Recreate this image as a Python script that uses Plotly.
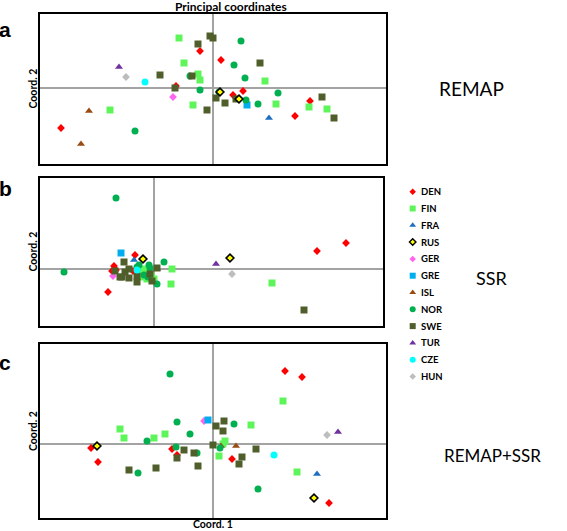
import plotly.graph_objects as go

W, H = 567, 531

COUNTRIES = ["DEN", "FIN", "FRA", "RUS", "GER", "GRE", "ISL", "NOR", "SWE", "TUR", "CZE", "HUN"]
DRAW_ORDER = ["DEN", "FIN", "FRA", "GER", "GRE", "ISL", "NOR", "SWE", "TUR", "CZE", "HUN", "RUS"]
PANEL_NAMES = ["REMAP", "SSR", "REMAP+SSR"]
PANEL_LETTERS = ["a", "b", "c"]

# ---- Panel a : REMAP (Coord. 1, Coord. 2) ----
REMAP_X = {
    "DEN": [-0.13, -0.37, -1.52, 0.08, 0.20, 0.30, 0.82, 0.97],
    "FIN": [-0.34, -0.29, -0.15, -0.13, -0.20, -1.03, 0.52, 0.63, 0.96, 1.14],
    "FRA": [0.56],
    "RUS": [0.07, 0.26],
    "GER": [-0.40],
    "GRE": [0.34],
    "ISL": [-1.24, -1.32],
    "NOR": [-0.23, -0.13, -0.78, 0.28, 0.21, 0.32, 0.06, 0.33, 0.45, 0.65],
    "SWE": [-0.53, -0.15, -0.21, -0.38, -0.06, -0.03, 0.00, 0.03, 0.12, 0.23, 0.47, 1.09, 1.21],
    "TUR": [-0.94],
    "CZE": [-0.68],
    "HUN": [-0.87],
}
REMAP_Y = {
    "DEN": [0.37, 0.02, -0.40, 0.28, -0.07, -0.03, -0.28, -0.13],
    "FIN": [0.50, 0.25, 0.14, 0.08, -0.17, -0.22, 0.07, -0.16, -0.19, -0.21],
    "FRA": [-0.30],
    "RUS": [-0.04, -0.11],
    "GER": [-0.09],
    "GRE": [-0.17],
    "ISL": [-0.23, -0.56],
    "NOR": [0.12, -0.02, -0.43, 0.47, 0.23, 0.10, -0.04, -0.12, -0.16, -0.05],
    "SWE": [0.13, 0.44, 0.12, 0.00, -0.22, 0.52, 0.50, -0.10, -0.15, -0.11, 0.25, -0.09, -0.30],
    "TUR": [0.21],
    "CZE": [0.06],
    "HUN": [0.11],
}

# ---- Panel b : SSR ----
SSR_X = {
    "DEN": [-0.19, -0.40, -0.42, -0.46, -0.21, 1.63, 1.92, -0.38],
    "FIN": [-0.09, -0.11, 0.00, 0.18, 0.17, 1.18, -0.07, -0.14, -0.06, -0.03],
    "FRA": [-0.20],
    "RUS": [-0.11, 0.76],
    "GER": [-0.41],
    "GRE": [-0.33],
    "ISL": [-0.01, 0.03],
    "NOR": [-0.38, -0.90, -0.17, -0.15, -0.05, -0.04, 0.10, -0.06, 0.03, -0.10],
    "SWE": [-0.30, -0.39, -0.32, -0.29, -0.34, -0.25, -0.25, -0.17, -0.17, -0.04, -0.02, 0.03, 1.50],
    "TUR": [0.62],
    "CZE": [-0.17],
    "HUN": [0.78],
}
SSR_Y = {
    "DEN": [0.14, 0.03, -0.02, -0.23, -0.02, 0.18, 0.26, -0.01],
    "FIN": [0.00, -0.08, -0.10, 0.00, -0.15, -0.14, -0.10, -0.02, -0.03, -0.07],
    "FRA": [0.09],
    "RUS": [0.10, 0.11],
    "GER": [-0.07],
    "GRE": [0.16],
    "ISL": [-0.12, 0.00],
    "NOR": [0.71, -0.03, 0.02, 0.04, 0.04, 0.01, 0.07, -0.08, -0.15, -0.06],
    "SWE": [0.07, -0.02, -0.08, -0.03, -0.08, -0.09, 0.00, -0.07, -0.13, -0.05, -0.12, 0.01, -0.41],
    "TUR": [0.05],
    "CZE": [-0.01],
    "HUN": [-0.05],
}

# ---- Panel c : REMAP+SSR ----
BOTH_X = {
    "DEN": [-1.22, -1.15, -0.41, -0.36, 0.72, 0.89, 0.19, 1.16],
    "FIN": [-0.93, -0.89, -0.59, -0.48, 0.70, 0.38, 0.12, 0.10, 0.06, 0.84],
    "FRA": [1.04],
    "RUS": [-1.16, 1.01],
    "GER": [-0.09],
    "GRE": [-0.05],
    "ISL": [0.08, 0.23],
    "NOR": [-0.43, -0.36, -0.23, -0.66, -0.37, -0.16, -0.75, 0.21, 0.07, 0.45],
    "SWE": [-0.29, -0.36, -0.19, -0.15, -0.84, -0.57, 0.00, 0.03, 0.11, 0.10, 0.43, 0.29, 0.26],
    "TUR": [1.25],
    "CZE": [0.61],
    "HUN": [1.14],
}
BOTH_Y = {
    "DEN": [-0.04, -0.18, -0.05, -0.11, 0.73, 0.67, -0.15, -0.59],
    "FIN": [0.15, 0.06, 0.06, 0.10, 0.43, 0.19, 0.03, 0.00, -0.12, -0.28],
    "FRA": [-0.30],
    "RUS": [-0.02, -0.54],
    "GER": [0.23],
    "GRE": [0.24],
    "ISL": [-0.02, -0.02],
    "NOR": [0.70, 0.22, 0.10, 0.03, -0.03, -0.09, -0.29, 0.20, -0.04, -0.45],
    "SWE": [-0.06, -0.14, -0.09, -0.22, -0.26, -0.24, -0.01, 0.18, 0.23, 0.13, -0.05, -0.13, -0.20],
    "TUR": [0.12],
    "CZE": [-0.11],
    "HUN": [0.09],
}

PANEL_DATA = [(REMAP_X, REMAP_Y), (SSR_X, SSR_Y), (BOTH_X, BOTH_Y)]

# ---- styles (symbol, fill, size, outline colour, outline width) ----
STYLE = {
    "DEN": ("diamond", "#ff0000", 6, "#ff0000", 0),
    "FIN": ("square", "#5ef55a", 7, "#5ef55a", 0),
    "FRA": ("triangle-up", "#1f6fc0", 7, "#1f6fc0", 0),
    "RUS": ("diamond", "#ffff00", 6, "#000000", 1.6),
    "GER": ("diamond", "#ff66ee", 6, "#ff66ee", 0),
    "GRE": ("square", "#00aeef", 7, "#00aeef", 0),
    "ISL": ("triangle-up", "#9a4b12", 7, "#9a4b12", 0),
    "NOR": ("circle", "#00b050", 7, "#00b050", 0),
    "SWE": ("square", "#4f5e2a", 7, "#4f5e2a", 0),
    "TUR": ("triangle-up", "#7030a0", 7, "#7030a0", 0),
    "CZE": ("circle", "#00ffff", 7, "#00ffff", 0),
    "HUN": ("diamond", "#bdbdbd", 6, "#bdbdbd", 0),
}

# ---- layout geometry (pixels) ----
PANEL_BOX = [(40, 386, 13.5, 163.5), (40, 383, 177.5, 325.5), (40, 385.5, 344, 518)]
PANEL_XRANGE = [(-1.73, 1.73), (-1.14, 2.29), (-1.73, 1.725)]
PANEL_YRANGE = [(-0.755, 0.745), (-0.565, 0.915), (-0.74, 1.00)]
NAME_POS = [(471, 89), (492, 278), (492, 455)]
NAME_SIZE = [19, 18, 17]
LETTER_Y = [29, 189, 362]

FONT = "Lato, 'Liberation Sans', Arial, sans-serif"

fig = go.Figure()

for p, (xd, yd) in enumerate(PANEL_DATA):
    ax = "" if p == 0 else str(p + 1)
    for c in DRAW_ORDER:
        sym, col, size, lc, lw = STYLE[c]
        fig.add_trace(go.Scatter(
            x=xd[c], y=yd[c], mode="markers", name=c, showlegend=False,
            xaxis="x" + ax, yaxis="y" + ax, cliponaxis=False,
            marker=dict(symbol=sym, color=col, size=size, line=dict(color=lc, width=lw)),
            hoverinfo="skip",
        ))

# legend drawn on a hidden axis covering the legend area, in pixel units
LEG_X, LEG_Y0, LEG_DY = 412.7, 191.7, 16.8
LEG_BOX = (400, 470, 180, 390)
for i, c in enumerate(COUNTRIES):
    sym, col, size, lc, lw = STYLE[c]
    fig.add_trace(go.Scatter(
        x=[LEG_X], y=[LEG_Y0 + i * LEG_DY], mode="markers", showlegend=False,
        xaxis="x4", yaxis="y4", hoverinfo="skip", cliponaxis=False,
        marker=dict(symbol=sym, color=col, size=size - 1, line=dict(color=lc, width=min(lw, 1.4))),
    ))

layout = dict(
    width=W, height=H, margin=dict(l=0, r=0, t=0, b=0),
    paper_bgcolor="white", plot_bgcolor="rgba(0,0,0,0)", showlegend=False,
    font=dict(family=FONT, color="black"),
)

annotations = []
for p in range(3):
    x0, x1, y0, y1 = PANEL_BOX[p]
    ax = "" if p == 0 else str(p + 1)
    common = dict(showgrid=False, showticklabels=False, ticks="", showline=True, mirror=True,
                  linecolor="black", linewidth=2, zeroline=True, zerolinecolor="#a3a3a3",
                  zerolinewidth=1.5, fixedrange=True)
    layout["xaxis" + ax] = dict(domain=[x0 / W, x1 / W], range=list(PANEL_XRANGE[p]),
                                anchor="y" + ax, **common)
    layout["yaxis" + ax] = dict(domain=[1 - y1 / H, 1 - y0 / H], range=list(PANEL_YRANGE[p]),
                                anchor="x" + ax, **common)
    annotations.append(dict(text="<b>Coord. 2</b>", x=33 / W, y=1 - (y0 + y1) / 2 / H,
                            xref="paper", yref="paper", textangle=-90, showarrow=False,
                            font=dict(size=10.5, family=FONT), xanchor="center", yanchor="middle"))
    annotations.append(dict(text="<b>" + PANEL_LETTERS[p] + "</b>", x=5 / W, y=1 - LETTER_Y[p] / H,
                            xref="paper", yref="paper", showarrow=False,
                            font=dict(size=21, family="'Liberation Sans', Arial, sans-serif"),
                            xanchor="center", yanchor="middle"))
    nx, ny = NAME_POS[p]
    annotations.append(dict(text=PANEL_NAMES[p], x=nx / W, y=1 - ny / H, xref="paper", yref="paper",
                            showarrow=False, font=dict(size=NAME_SIZE[p], family=FONT),
                            xanchor="center", yanchor="middle"))

annotations.append(dict(text="<b>Principal coordinates</b>", x=231 / W, y=1 - 6 / H,
                        xref="paper", yref="paper", showarrow=False,
                        font=dict(size=12, family=FONT), xanchor="center", yanchor="middle"))
annotations.append(dict(text="<b>Coord. 1</b>", x=213 / W, y=1 - 524 / H,
                        xref="paper", yref="paper", showarrow=False,
                        font=dict(size=10.5, family=FONT), xanchor="center", yanchor="middle"))

for i, c in enumerate(COUNTRIES):
    annotations.append(dict(text="<b>" + c + "</b>", x=419, y=LEG_Y0 + i * LEG_DY,
                            xref="x4", yref="y4", showarrow=False,
                            font=dict(size=9.5, family=FONT), xanchor="left", yanchor="middle"))

lx0, lx1, ly0, ly1 = LEG_BOX
layout["xaxis4"] = dict(domain=[lx0 / W, lx1 / W], range=[lx0, lx1], visible=False,
                        anchor="y4", fixedrange=True)
layout["yaxis4"] = dict(domain=[1 - ly1 / H, 1 - ly0 / H], range=[ly1, ly0], visible=False,
                        anchor="x4", fixedrange=True)
layout["annotations"] = annotations
layout["hovermode"] = False

fig.update_layout(**layout)
fig.write_html("out.html", config={"displayModeBar": False},
               post_script="document.body.style.margin='0';document.body.style.padding='0';")
